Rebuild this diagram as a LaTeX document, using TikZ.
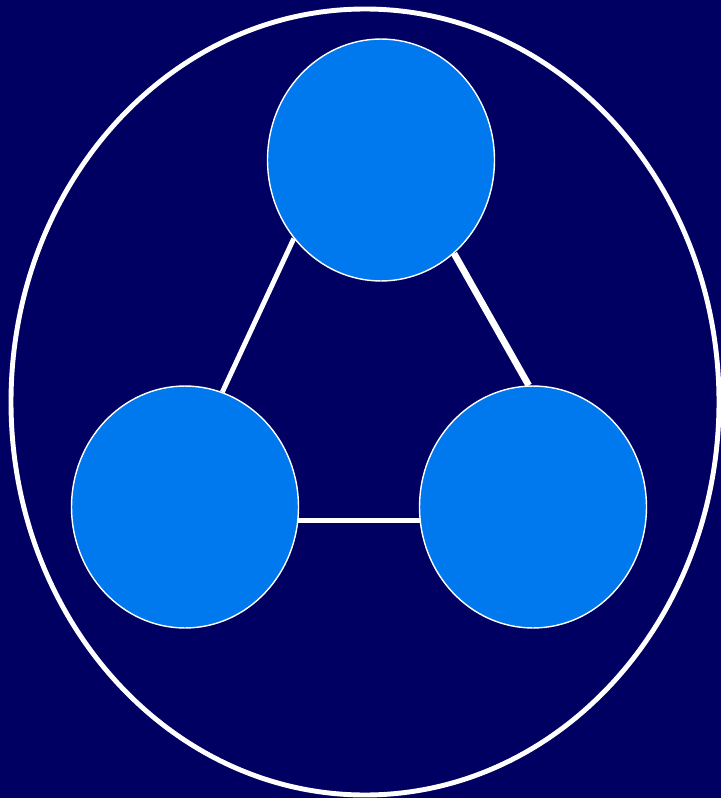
\documentclass[tikz,border=0pt]{standalone}
\usepackage{tikz}
\usetikzlibrary{shapes.geometric}
\definecolor{navy}{RGB}{0,0,98}
\definecolor{ballblue}{RGB}{0,120,238}
\tikzset{
  ball/.style={ellipse, fill=ballblue, draw=white, line width=0.8pt,
    minimum width=4.54cm, minimum height=4.84cm, inner sep=0pt},
  link/.style={white, line width=2.8pt}
}
\begin{document}
\begin{tikzpicture}[x=0.02cm, y=-0.02cm]
\fill[navy] (0,0) rectangle (721,798);
\useasboundingbox (0,0) rectangle (721,798);

\draw[white, line width=2.8pt] (365,402) ellipse [x radius=354, y radius=393]; %outer ring

\node[ball] (top) at (381,160) {};
\node[ball] (left) at (185,507) {};
\node[ball] (right) at (533,507) {};

\draw[link] (top.222) -- (left.72) ;
\draw[link, line width=3.8pt] (top.-52.8) -- (right.92.8) ;
\draw[link] (left.-7.5) -- (right.187.5) ;

\end{tikzpicture}
\end{document}
